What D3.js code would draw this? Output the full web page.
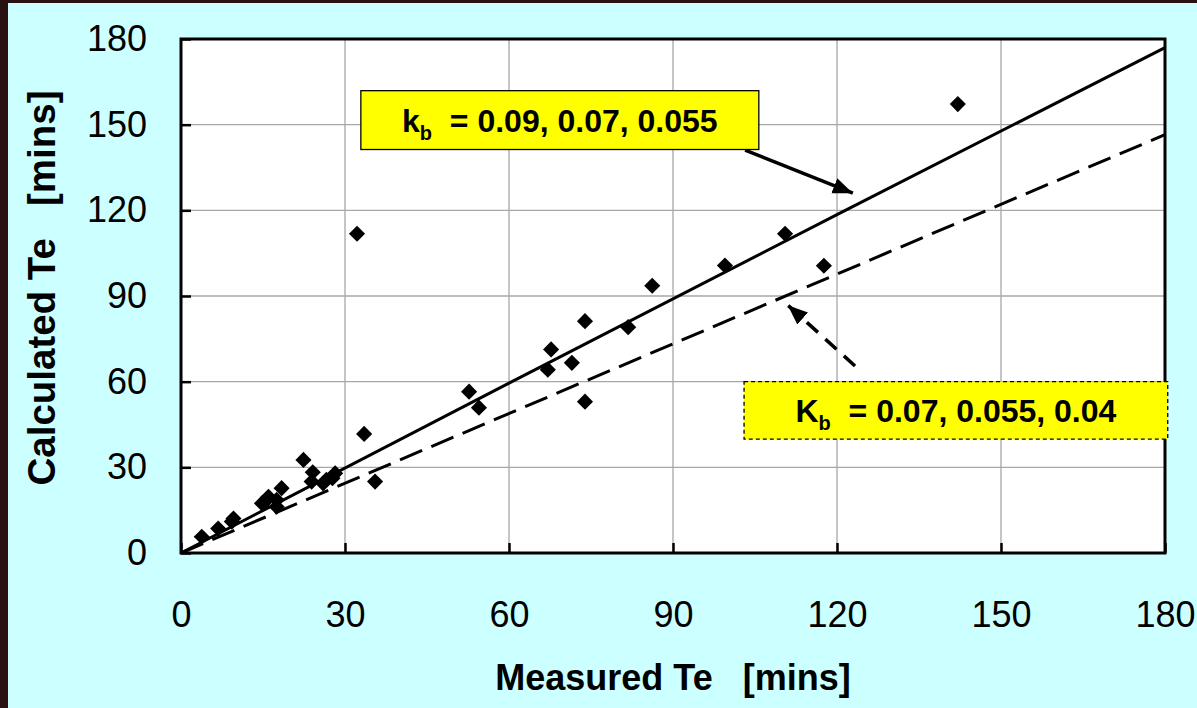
<!DOCTYPE html>
<html>
<head>
<meta charset="utf-8">
<script src="https://cdn.jsdelivr.net/npm/d3@7"></script>
<style>
  html, body { margin: 0; padding: 0; background: #2a1212; }
  svg { display: block; }
  text { font-family: "Liberation Sans", Arial, sans-serif; }
</style>
</head>
<body>
<svg id="chart" width="1197" height="708"></svg>
<script>
// measured vs calculated Te (mins)
var measured   = [142.1, 110.5, 117.6, 99.5, 86.2, 81.8, 73.9, 71.5, 67.7, 67.1, 73.9, 52.7, 54.5,
                  32.2, 33.5, 35.5, 22.4, 24.1, 23.9, 26.0, 26.6, 28.2, 27.7, 18.4, 17.5, 16.0,
                  15.4, 17.5, 14.8, 9.6, 9.3, 6.8, 3.8];
var calculated = [157.2, 111.8, 100.6, 100.7, 93.6, 79.1, 81.2, 66.6, 71.3, 64.2, 53.0, 56.5, 50.9,
                  111.8, 41.7, 25.0, 32.6, 28.3, 25.0, 24.4, 25.6, 27.9, 26.2, 22.7, 18.6, 19.7,
                  18.0, 16.2, 17.4, 12.1, 11.0, 8.6, 5.7];

// the two reference lines
var solidX  = [0, 60, 120, 180];
var solidY  = [0, 59.5, 118.5, 177];
var dashedX = [0, 180];
var dashedY = [0, 146.5];

var tickValues = [0, 30, 60, 90, 120, 150, 180];

var svg = d3.select("#chart");
var width = +svg.attr("width");
var height = +svg.attr("height");

var plotLeft = 181, plotRight = 1165, plotTop = 39, plotBottom = 553;

var x = d3.scaleLinear().domain([0, 180]).range([plotLeft, plotRight]);
var y = d3.scaleLinear().domain([0, 180]).range([plotBottom, plotTop]);

// background: dark edge then the cyan sheet
svg.append("rect").attr("width", width).attr("height", height).attr("fill", "#2a1212");
svg.append("rect").attr("x", 8).attr("y", 3).attr("width", width - 8).attr("height", height - 3)
    .attr("fill", "#ccffff");

svg.append("rect")
    .attr("x", plotLeft).attr("y", plotTop)
    .attr("width", plotRight - plotLeft).attr("height", plotBottom - plotTop)
    .attr("fill", "#fff");

// grid
var grid = svg.append("g").attr("stroke", "#a6a6a6").attr("stroke-width", 1.3);
grid.selectAll(".gx").data(tickValues.slice(1, -1)).enter().append("line")
    .attr("x1", function (d) { return x(d); }).attr("x2", function (d) { return x(d); })
    .attr("y1", plotTop).attr("y2", plotBottom);
grid.selectAll(".gy").data(tickValues.slice(1, -1)).enter().append("line")
    .attr("y1", function (d) { return y(d); }).attr("y2", function (d) { return y(d); })
    .attr("x1", plotLeft).attr("x2", plotRight);

// axes, ticks pointing inward
var yAxis = svg.append("g")
    .attr("transform", "translate(" + plotLeft + ",0)")
    .call(d3.axisLeft(y).tickValues(tickValues).tickSize(-10).tickPadding(34));
var xAxis = svg.append("g")
    .attr("transform", "translate(0," + plotBottom + ")")
    .call(d3.axisBottom(x).tickValues(tickValues).tickSize(-10).tickPadding(48));

[xAxis, yAxis].forEach(function (ax) {
    ax.select(".domain").remove();
    ax.selectAll(".tick line").attr("stroke", "#000").attr("stroke-width", 2.5);
    ax.selectAll(".tick text")
        .attr("fill", "#000")
        .style("font-family", "'Liberation Sans', Arial, sans-serif")
        .style("font-size", "36px");
});

// lines
var line = d3.line()
    .x(function (d) { return x(d[0]); })
    .y(function (d) { return y(d[1]); });

svg.append("path")
    .datum(d3.zip(dashedX, dashedY))
    .attr("d", line)
    .attr("fill", "none").attr("stroke", "#000").attr("stroke-width", 3)
    .attr("stroke-dasharray", "24,10");

svg.append("path")
    .datum(d3.zip(solidX, solidY))
    .attr("d", line)
    .attr("fill", "none").attr("stroke", "#000").attr("stroke-width", 3);

// points
svg.append("g").selectAll("path")
    .data(d3.zip(measured, calculated))
    .enter().append("path")
    .attr("d", d3.symbol(d3.symbolSquare, 130))
    .attr("transform", function (d) { return "translate(" + x(d[0]) + "," + y(d[1]) + ") rotate(45)"; })
    .attr("fill", "#000");

// frame
svg.append("rect")
    .attr("x", plotLeft).attr("y", plotTop)
    .attr("width", plotRight - plotLeft).attr("height", plotBottom - plotTop)
    .attr("fill", "none").attr("stroke", "#000").attr("stroke-width", 3);

// arrow heads
svg.append("defs").append("marker")
    .attr("id", "head")
    .attr("markerUnits", "userSpaceOnUse")
    .attr("markerWidth", 22).attr("markerHeight", 18)
    .attr("refX", 20).attr("refY", 8)
    .attr("orient", "auto")
    .append("path")
    .attr("d", "M0,0 L20,8 L0,16 Z")
    .attr("fill", "#000");

// annotation 1
svg.append("line")
    .attr("x1", x(103.2)).attr("y1", y(141.1))
    .attr("x2", x(122.9)).attr("y2", y(126))
    .attr("stroke", "#000").attr("stroke-width", 3.5)
    .attr("marker-end", "url(#head)");

svg.append("rect")
    .attr("x", x(32.9)).attr("y", y(161.9))
    .attr("width", x(105.7) - x(32.9)).attr("height", y(141.3) - y(161.9))
    .attr("fill", "#ffff00").attr("stroke", "#000").attr("stroke-width", 1.3);

var t1 = svg.append("text")
    .attr("x", (x(32.9) + x(105.7)) / 2).attr("y", 131.5)
    .attr("text-anchor", "middle")
    .attr("font-weight", "bold").attr("font-size", "32px")
    .style("white-space", "pre");
t1.append("tspan").text("k");
t1.append("tspan").attr("font-size", "20px").attr("dy", 8).text("b");
t1.append("tspan").attr("dy", -8).text("  = 0.09, 0.07, 0.055");

// annotation 2
svg.append("line")
    .attr("x1", x(123.3)).attr("y1", y(65.5))
    .attr("x2", x(111.0)).attr("y2", y(86.8))
    .attr("stroke", "#000").attr("stroke-width", 3.5)
    .attr("stroke-dasharray", "15,10")
    .attr("marker-end", "url(#head)");

svg.append("rect")
    .attr("x", x(103)).attr("y", y(60))
    .attr("width", x(180.5) - x(103)).attr("height", y(39.9) - y(60))
    .attr("fill", "#ffff00").attr("stroke", "#000").attr("stroke-width", 1.3)
    .attr("stroke-dasharray", "4,3");

var t2 = svg.append("text")
    .attr("x", (x(103) + x(180.5)) / 2).attr("y", 422)
    .attr("text-anchor", "middle")
    .attr("font-weight", "bold").attr("font-size", "32px")
    .style("white-space", "pre");
t2.append("tspan").text("K");
t2.append("tspan").attr("font-size", "20px").attr("dy", 8).text("b");
t2.append("tspan").attr("dy", -8).text("  = 0.07, 0.055, 0.04");

// axis titles
svg.append("text")
    .attr("x", (plotLeft + plotRight) / 2).attr("y", 690)
    .attr("text-anchor", "middle")
    .attr("font-weight", "bold").attr("font-size", "36px")
    .style("white-space", "pre")
    .text("Measured Te   [mins]");

svg.append("text")
    .attr("transform", "translate(55," + 288 + ") rotate(-90)")
    .attr("text-anchor", "middle")
    .attr("font-weight", "bold").attr("font-size", "38.5px")
    .style("white-space", "pre")
    .text("Calculated Te   [mins]");
</script>
</body>
</html>
